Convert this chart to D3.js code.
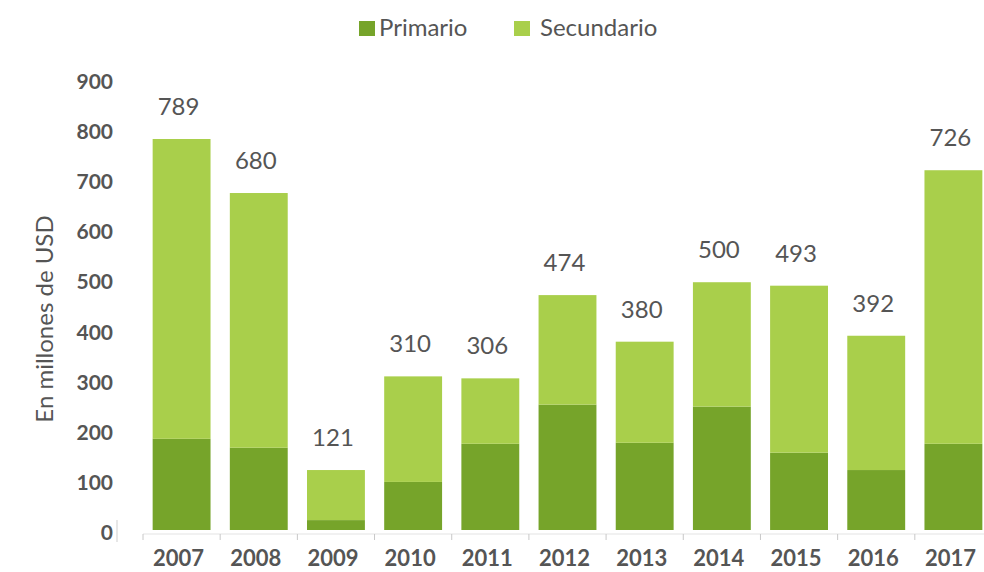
<!DOCTYPE html>
<html>
<head>
<meta charset="utf-8">
<script src="https://cdn.jsdelivr.net/npm/d3@7"></script>
<style>
  html, body { margin: 0; padding: 0; background: #fff; }
  svg { display: block; font-family: Lato, "Open Sans", sans-serif; }
</style>
</head>
<body>
<svg id="chart" width="984" height="572"></svg>
<script>
// Inversión por año, en millones de USD
const years = ["2007", "2008", "2009", "2010", "2011", "2012", "2013", "2014", "2015", "2016", "2017"];
const totals = [789, 680, 121, 310, 306, 474, 380, 500, 493, 392, 726];
const primario = [184, 166, 20, 97, 174, 253, 176, 249, 156, 121, 174];
const yTicks = [0, 100, 200, 300, 400, 500, 600, 700, 800, 900];
const seriesNames = ["Primario", "Secundario"];
const colors = { Primario: "#76a42a", Secundario: "#a9cf4b" };

const svg = d3.select("#chart");
const textColor = "#555";

const x = d3.scaleBand()
  .domain(years)
  .range([143, 992])
  .paddingInner(0.25)
  .paddingOuter(0.125);

const y = d3.scaleLinear()
  .domain([0, 900])
  .range([530, 84]);

// Tick labels sit on a slightly wider spacing than the bars
const yLabel = d3.scaleLinear()
  .domain([0, 900])
  .range([540, 89]);

// Stacked segments: Primario at the bottom, Secundario on top up to the total
const rows = years.map((yr, i) => ({ year: yr, Primario: primario[i], Secundario: totals[i] - primario[i], total: totals[i] }));
const stack = d3.stack().keys(seriesNames)(rows);

svg.append("g")
  .selectAll("g")
  .data(stack)
  .join("g")
  .attr("fill", d => colors[d.key])
  .selectAll("rect")
  .data(d => d)
  .join("rect")
  .attr("x", d => x(d.data.year))
  .attr("width", x.bandwidth())
  .attr("y", d => y(d[1]))
  .attr("height", d => y(d[0]) - y(d[1]));

// Total labels above each bar
svg.append("g")
  .selectAll("text")
  .data(rows)
  .join("text")
  .attr("x", d => x(d.year) + x.bandwidth() / 2 - 3)
  .attr("y", d => y(d.total) - 24)
  .attr("text-anchor", "middle")
  .attr("fill", textColor)
  .style("font-size", "24px")
  .text(d => d.total);

// X axis: faint baseline with ticks between bands
const xAxis = svg.append("g");
xAxis.append("line")
  .attr("x1", 143).attr("x2", 984)
  .attr("y1", 534).attr("y2", 534)
  .attr("stroke", "#e3e3e3").attr("stroke-width", 1);
xAxis.selectAll("line.tick")
  .data(years)
  .join("line")
  .attr("class", "tick")
  .attr("x1", d => x(d) - x.step() * x.paddingInner() / 2)
  .attr("x2", d => x(d) - x.step() * x.paddingInner() / 2)
  .attr("y1", 534).attr("y2", 540)
  .attr("stroke", "#c8c8c8").attr("stroke-width", 1);
xAxis.selectAll("text")
  .data(years)
  .join("text")
  .attr("x", d => x(d) + x.bandwidth() / 2 - 3)
  .attr("y", 566)
  .attr("text-anchor", "middle")
  .attr("fill", textColor)
  .style("font-size", "22px")
  .style("font-weight", "bold")
  .text(d => d);

// Y axis labels
const yAxis = svg.append("g");
yAxis.selectAll("text")
  .data(yTicks)
  .join("text")
  .attr("x", 113)
  .attr("y", d => yLabel(d))
  .attr("text-anchor", "end")
  .attr("fill", textColor)
  .style("font-size", "21px")
  .style("font-weight", "bold")
  .text(d => d);
yAxis.append("line")
  .attr("x1", 117).attr("x2", 117)
  .attr("y1", 520).attr("y2", 542)
  .attr("stroke", "#cfcfcf").attr("stroke-width", 1);

svg.append("text")
  .attr("transform", "translate(53,319) rotate(-90)")
  .attr("text-anchor", "middle")
  .attr("fill", textColor)
  .style("font-size", "24px")
  .text("En millones de USD");

// Legend
const legendX = [359, 514];
const legend = svg.append("g")
  .selectAll("g")
  .data(seriesNames)
  .join("g")
  .attr("transform", (d, i) => `translate(${legendX[i]},21)`);
legend.append("rect")
  .attr("width", 16).attr("height", 15)
  .attr("fill", d => colors[d]);
legend.append("text")
  .attr("x", d => d === "Primario" ? 20 : 26)
  .attr("y", 15)
  .attr("fill", textColor)
  .style("font-size", "24px")
  .text(d => d);
</script>
</body>
</html>
